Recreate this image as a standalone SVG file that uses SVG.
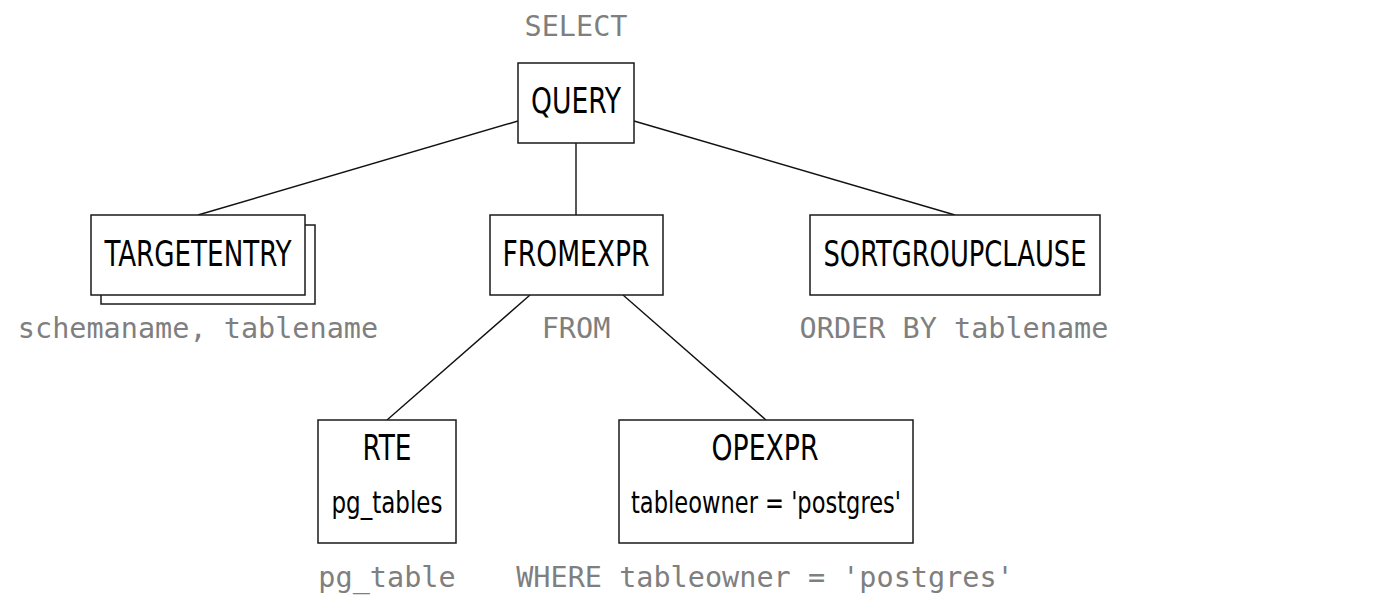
<svg xmlns="http://www.w3.org/2000/svg" width="1374" height="612" viewBox="0 0 1374 612">
<style>
.box{fill:#fff;stroke:#1a1a1a;stroke-width:1.5}
.lbl{font-family:"DejaVu Sans Condensed","Liberation Sans",sans-serif;font-size:36px;fill:#000;text-anchor:middle}
.sub{font-family:"DejaVu Sans Condensed","Liberation Sans",sans-serif;font-size:30px;fill:#000;text-anchor:middle}
.sql{font-family:"DejaVu Sans Mono","Liberation Mono",monospace;font-size:28.5px;fill:#7f7f7f;text-anchor:middle}
.edge{stroke:#111;stroke-width:1.4;fill:none}
</style>
<rect width="1374" height="612" fill="#fff"/>
<g id="connectors">
<line class="edge" x1="518" y1="121" x2="198" y2="215"/>
<line class="edge" x1="576" y1="143" x2="576" y2="215"/>
<line class="edge" x1="634" y1="121" x2="955" y2="215"/>
<line class="edge" x1="530" y1="295" x2="387" y2="420"/>
<line class="edge" x1="623" y1="295" x2="766" y2="420"/>
</g>
<g id="query">
<text class="sql" x="576" y="36">SELECT</text>
<rect class="box" x="518" y="63" width="116" height="80"/>
<text class="lbl" x="576" y="113" textLength="90" lengthAdjust="spacingAndGlyphs">QUERY</text>
</g>
<g id="targetentry">
<rect class="box" x="101" y="225" width="214" height="79"/>
<rect class="box" x="91" y="215" width="214" height="80"/>
<text class="lbl" x="198" y="266" textLength="187" lengthAdjust="spacingAndGlyphs">TARGETENTRY</text>
<text class="sql" x="198" y="338">schemaname, tablename</text>
</g>
<g id="fromexpr">
<rect class="box" x="490" y="215" width="173" height="80"/>
<text class="lbl" x="576" y="266" textLength="147" lengthAdjust="spacingAndGlyphs">FROMEXPR</text>
<text class="sql" x="576" y="338">FROM</text>
</g>
<g id="sortgroupclause">
<rect class="box" x="810" y="215" width="290" height="80"/>
<text class="lbl" x="955" y="266" textLength="263" lengthAdjust="spacingAndGlyphs">SORTGROUPCLAUSE</text>
<text class="sql" x="954" y="338">ORDER BY tablename</text>
</g>
<g id="rte">
<rect class="box" x="318" y="420" width="138" height="123"/>
<text class="lbl" x="387" y="460" textLength="49" lengthAdjust="spacingAndGlyphs">RTE</text>
<text class="sub" x="387" y="513" textLength="111" lengthAdjust="spacingAndGlyphs">pg_tables</text>
<text class="sql" x="387" y="587">pg_table</text>
</g>
<g id="opexpr">
<rect class="box" x="619" y="420" width="294" height="123"/>
<text class="lbl" x="765" y="460" textLength="107" lengthAdjust="spacingAndGlyphs">OPEXPR</text>
<text class="sub" x="766" y="513" textLength="270" lengthAdjust="spacingAndGlyphs">tableowner = 'postgres'</text>
<text class="sql" x="765" y="587">WHERE tableowner = 'postgres'</text>
</g>
</svg>
